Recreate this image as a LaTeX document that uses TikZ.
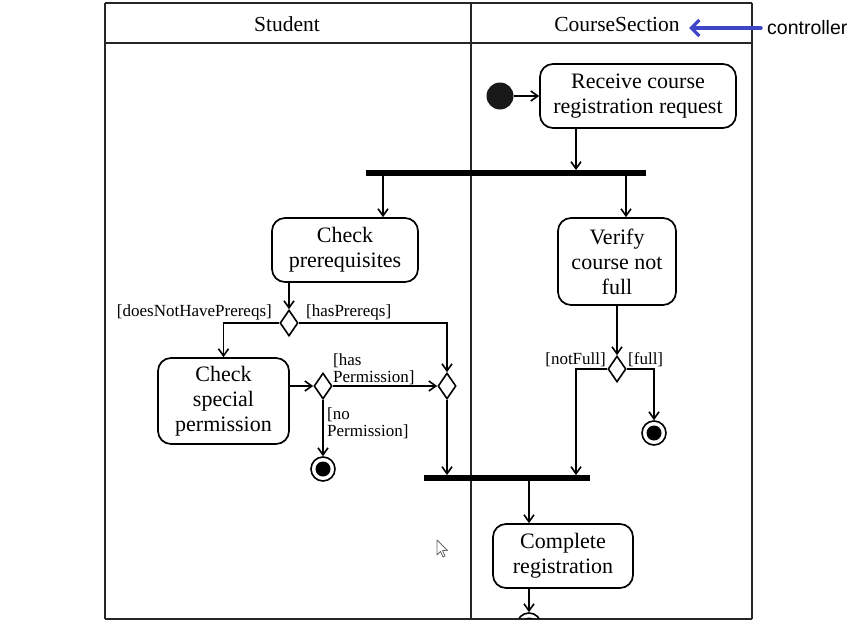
\documentclass[tikz,border=0pt]{standalone}
\usepackage{fontspec}
\setmainfont{Liberation Serif}
\newfontfamily\labelsans{Liberation Sans}
\usetikzlibrary{arrows.meta,shapes.geometric}
\definecolor{ctlblue}{RGB}{62,70,200}
\begin{document}
\begin{tikzpicture}[x=1pt,y=-1pt,
  act/.style={draw, rounded corners=13pt, line width=1.7pt, align=center,
    font=\fontsize{22}{25}\selectfont, inner sep=0pt},
  flow/.style={line width=1.8pt, -{Straight Barb[length=7pt,width=10pt,line width=1.6pt]}},
  dec/.style={draw, diamond, line width=1.6pt, minimum width=18pt, minimum height=26pt, inner sep=0pt},
  syncbar/.style={fill=black, inner sep=0pt, minimum height=5.5pt},
  guard/.style={font=\fontsize{17}{17.5}\selectfont, inner sep=0pt, align=left},
  lanehead/.style={font=\fontsize{21.5}{24}\selectfont, inner sep=0pt},
  finalnode/.style={circle, draw, line width=1.6pt, minimum size=24pt, inner sep=0pt},
  frame/.style={line width=2pt, color=black!85},
]
\useasboundingbox (0,0) rectangle (856,621);
\fill[white] (0,0) rectangle (856,621);

% swimlane frame
\draw[frame] (105,3) -- (752,3);
\draw[frame] (105,3) -- (105,619);
\draw[frame] (752,3) -- (752,619);
\draw[frame] (105,43) -- (752,43);
\draw[frame] (471,3) -- (471,619);
\draw[frame] (105,619) -- (752,619);

\node[lanehead] (hs) at (287,24) {Student};
\node[lanehead] (hc) at (617,24) {CourseSection};
\node[font=\labelsans\fontsize{19.5}{21}\selectfont, anchor=west, inner sep=0pt] (ctl) at (767,28) {controller};
\coordinate (ctip) at (689,28);
\draw[ctlblue, line width=3.4pt, line cap=round,
  -{Straight Barb[length=8pt,width=16pt,line width=3.2pt]}] ([xshift=-6pt]ctl.west) -- (ctip);

% nodes
\node[circle, fill=black!90, minimum size=27pt, inner sep=0pt] (init) at (500,96) {};
\node[act, minimum width=196pt, minimum height=64pt] (recv) at (638,96) {Receive course\\registration request};
\node[syncbar, minimum width=280pt] (fork) at (506,173) {};
\node[act, minimum width=146pt, minimum height=64pt] (chk) at (345,250) {Check\\prerequisites};
\node[act, minimum width=118pt, minimum height=87pt] (ver) at (617,261.5) {Verify\\course not\\full};
\node[dec] (d1) at (289,323) {};
\node[act, minimum width=131pt, minimum height=86pt] (cps) at (223.5,401) {Check\\special\\permission};
\node[dec] (d2) at (323,386) {};
\node[dec] (d3) at (447,386) {};
\node[finalnode] (f1) at (323,469) {};
\fill (f1.center) circle (7.5pt);
\node[dec] (d4) at (617,369) {};
\node[finalnode] (f2) at (654,433) {};
\fill (f2.center) circle (7.5pt);
\node[syncbar, minimum width=166pt] (join) at (507,478) {};
\node[act, minimum width=140pt, minimum height=64pt] (comp) at (563,556) {Complete\\registration};
\begin{scope}
\clip (0,0) rectangle (856,618);
\node[finalnode] (f3) at (529,625) {};
\fill (f3.center) circle (7.5pt);
\end{scope}

% guards
\node[guard, anchor=east] (g1) at (272,312) {[doesNotHavePrereqs]};
\node[guard, anchor=west] (g2) at (306,312) {[hasPrereqs]};
\node[guard, anchor=west] (g3) at (333,369) {[has\\Permission]};
\node[guard, anchor=west] (g4) at (327,423) {[no\\Permission]};
\node[guard, anchor=east] (g5) at (606,360) {[notFull]};
\node[guard, anchor=west] (g6) at (628,360) {[full]};

% connectors
\draw[flow] (init) -- (recv);
\draw[flow] ([xshift=-62pt]recv.south) -- ([xshift=-62pt]recv.south |- fork.north);
\draw[flow] ([xshift=38pt]chk.north |- fork.south) -- ([xshift=38pt]chk.north);
\draw[flow] ([xshift=9pt]ver.north |- fork.south) -- ([xshift=9pt]ver.north);
\draw[flow] (chk.south -| d1.north) -- (d1.north);
\draw[flow] (d1.west) -| (cps.north);
\draw[flow] (d1.east) -| (d3.north);
\draw[flow] (d2.west -| cps.east) -- (d2.west);
\draw[flow] (d2.east) -- (d3.west);
\draw[flow] (d2.south) -- (f1.north);
\draw[flow] (d3.south) -- (d3.south |- join.north);
\draw[flow] (ver.south) -- (d4.north);
\draw[flow] (d4.west) -| ([xshift=69pt]join.north);
\draw[flow] (d4.east) -| (f2.north);
\draw[flow] ([xshift=22pt]join.south) -- ([xshift=-34pt]comp.north);
\begin{scope}
\clip (0,0) rectangle (856,618);
\draw[flow] ([xshift=-34pt]comp.south) -- (f3.north);
\end{scope}

% mouse pointer
\draw[black!60, line width=0.8pt, fill=white, line join=round]
  (437,540) -- (437,555) -- (440.5,551.5) -- (443,557) -- (445,556) -- (442.5,550.5) -- (447.5,550.5) -- cycle;
\end{tikzpicture}
\end{document}
